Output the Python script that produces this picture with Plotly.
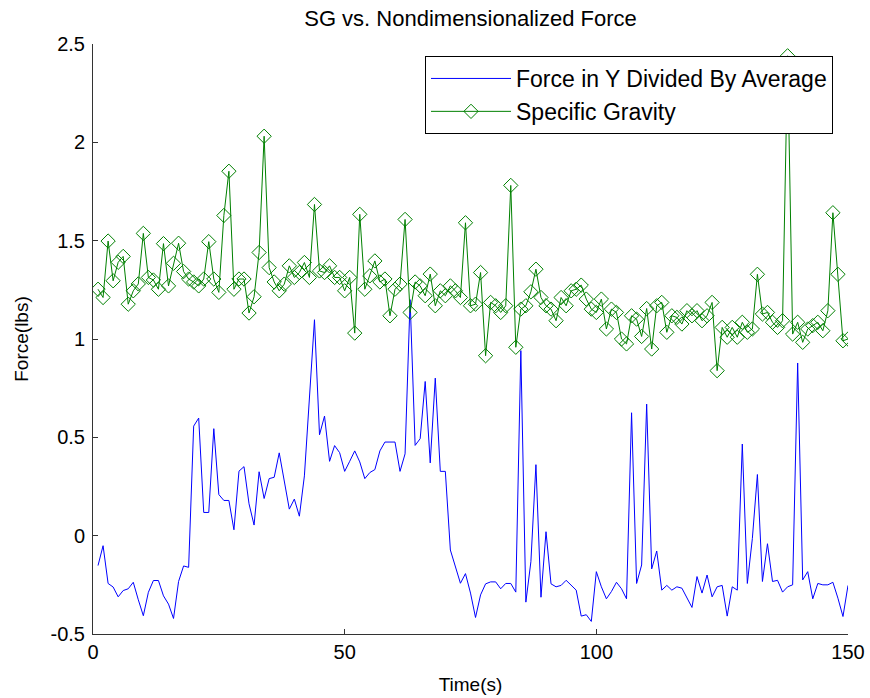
import plotly.graph_objects as go

time_s = list(range(1, 151))

force_norm = [
    -0.152, -0.051, -0.243, -0.261, -0.311, -0.279, -0.270, -0.237, -0.326, -0.407,
    -0.288, -0.228, -0.228, -0.306, -0.348, -0.421, -0.233, -0.154, -0.161, 0.557,
    0.598, 0.118, 0.118, 0.544, 0.209, 0.179, 0.179, 0.030, 0.328, 0.351,
    0.162, 0.054, 0.325, 0.189, 0.290, 0.297, 0.421, 0.274, 0.135, 0.186,
    0.099, 0.304, 0.696, 1.098, 0.513, 0.608, 0.378, 0.458, 0.422, 0.327,
    0.378, 0.431, 0.375, 0.290, 0.321, 0.336, 0.431, 0.476, 0.476, 0.476,
    0.327, 0.416, 1.200, 0.459, 0.493, 0.784, 0.370, 0.801, 0.327, 0.327,
    -0.073, -0.157, -0.242, -0.193, -0.292, -0.416, -0.301, -0.245, -0.235, -0.235,
    -0.270, -0.243, -0.243, -0.287, 0.941, -0.338, -0.132, 0.361, -0.313, 0.020,
    -0.245, -0.260, -0.253, -0.227, -0.253, -0.277, -0.409, -0.402, -0.436, -0.183,
    -0.260, -0.321, -0.284, -0.237, -0.270, -0.321, 0.625, -0.243, -0.149, 0.669,
    -0.169, -0.078, -0.277, -0.253, -0.277, -0.260, -0.267, -0.318, -0.365, -0.208,
    -0.292, -0.200, -0.311, -0.260, -0.253, -0.409, -0.260, -0.277, 0.466, -0.243,
    -0.014, 0.311, -0.233, -0.041, -0.233, -0.227, -0.287, -0.260, -0.250, 0.878,
    -0.225, -0.183, -0.321, -0.243, -0.250, -0.250, -0.237, -0.318, -0.411, -0.253,
]

specific_gravity = [
    1.253, 1.211, 1.498, 1.296, 1.390, 1.420, 1.177, 1.245, 1.280, 1.537,
    1.313, 1.300, 1.253, 1.485, 1.270, 1.385, 1.487, 1.343, 1.305, 1.290,
    1.270, 1.305, 1.495, 1.305, 1.237, 1.628, 1.853, 1.253, 1.305, 1.305,
    1.132, 1.215, 1.440, 2.031, 1.363, 1.290, 1.245, 1.279, 1.372, 1.313,
    1.338, 1.389, 1.313, 1.684, 1.346, 1.338, 1.372, 1.313, 1.313, 1.245,
    1.313, 1.030, 1.634, 1.253, 1.321, 1.397, 1.290, 1.305, 1.118, 1.253,
    1.279, 1.608, 1.135, 1.290, 1.270, 1.220, 1.330, 1.169, 1.245, 1.220,
    1.270, 1.245, 1.211, 1.591, 1.169, 1.177, 1.338, 0.915, 1.186, 1.169,
    1.135, 1.169, 1.781, 0.958, 1.152, 1.169, 1.240, 1.355, 1.211, 1.169,
    1.152, 1.093, 1.211, 1.169, 1.245, 1.253, 1.274, 1.203, 1.152, 1.135,
    1.203, 1.051, 1.152, 1.135, 1.000, 0.975, 1.118, 1.101, 1.013, 1.155,
    0.949, 1.169, 1.186, 1.034, 1.118, 1.110, 1.076, 1.144, 1.118, 1.144,
    1.093, 1.118, 1.186, 0.839, 1.059, 1.009, 1.059, 1.009, 1.085, 1.034,
    1.051, 1.329, 1.127, 1.135, 1.085, 1.059, 1.093, 2.440, 1.025, 1.085,
    0.983, 1.051, 1.068, 1.085, 1.042, 1.144, 1.642, 1.329, 0.991, 1.000,
]

x_ticks = [0, 50, 100, 150]
x_tick_labels = ["0", "50", "100", "150"]
y_ticks = [-0.5, 0, 0.5, 1, 1.5, 2, 2.5]
y_tick_labels = ["-0.5", "0", "0.5", "1", "1.5", "2", "2.5"]

FONT = "Liberation Sans, Arial, Helvetica, sans-serif"

W, H = 870, 698
ML, MR, MT, MB = 93, 22, 44, 64
PW, PH = W - ML - MR, H - MT - MB

fig = go.Figure()
fig.add_trace(go.Scatter(
    x=time_s, y=force_norm, mode="lines",
    name="Force in Y Divided By Average",
    line=dict(color="#0000FF", width=1),
))
fig.add_trace(go.Scatter(
    x=time_s, y=specific_gravity, mode="lines+markers",
    name="Specific Gravity",
    line=dict(color="#008000", width=1),
    marker=dict(symbol="diamond-open", size=11, color="#008000",
                line=dict(color="#008000", width=1)),
))

fig.update_layout(
    width=W, height=H,
    margin=dict(l=ML, r=MR, t=MT, b=MB, autoexpand=False),
    paper_bgcolor="white", plot_bgcolor="white",
    font=dict(family=FONT, size=20, color="black"),
    title=dict(text="SG vs. Nondimensionalized Force", x=0.5, xref="paper",
               y=1 - 18 / H, yref="container", yanchor="middle",
               font=dict(size=22, color="black")),
    showlegend=True,
    legend=dict(x=(425 - ML) / PW, y=1 - (56 - MT) / PH, xanchor="left", yanchor="top",
                bgcolor="white", bordercolor="black", borderwidth=1,
                font=dict(size=23, color="black"), itemwidth=80,
                tracegroupgap=0),
    xaxis=dict(range=[0, 150], tickmode="array", tickvals=x_ticks,
               ticktext=x_tick_labels, ticks="inside", ticklen=5,
               tickcolor="#333333", showline=True, linecolor="#333333",
               linewidth=1, showgrid=False, zeroline=False, automargin=False,
               tickfont=dict(size=20),
               title=dict(text="Time(s)", standoff=15, font=dict(size=19))),
    yaxis=dict(range=[-0.5, 2.5], tickmode="array", tickvals=y_ticks,
               ticktext=y_tick_labels, ticks="inside", ticklen=5,
               tickcolor="#333333", showline=True, linecolor="#333333",
               linewidth=1, showgrid=False, zeroline=False, automargin=False,
               tickfont=dict(size=20), ticklabelstandoff=3,
               title=dict(text="Force(lbs)", standoff=16, font=dict(size=19))),
)

# remove the page's default body margin so the figure fills the window exactly
fig.write_html(
    "out.html",
    config={"displayModeBar": False},
    post_script="document.body.style.margin='0';document.body.style.overflow='hidden';",
)
